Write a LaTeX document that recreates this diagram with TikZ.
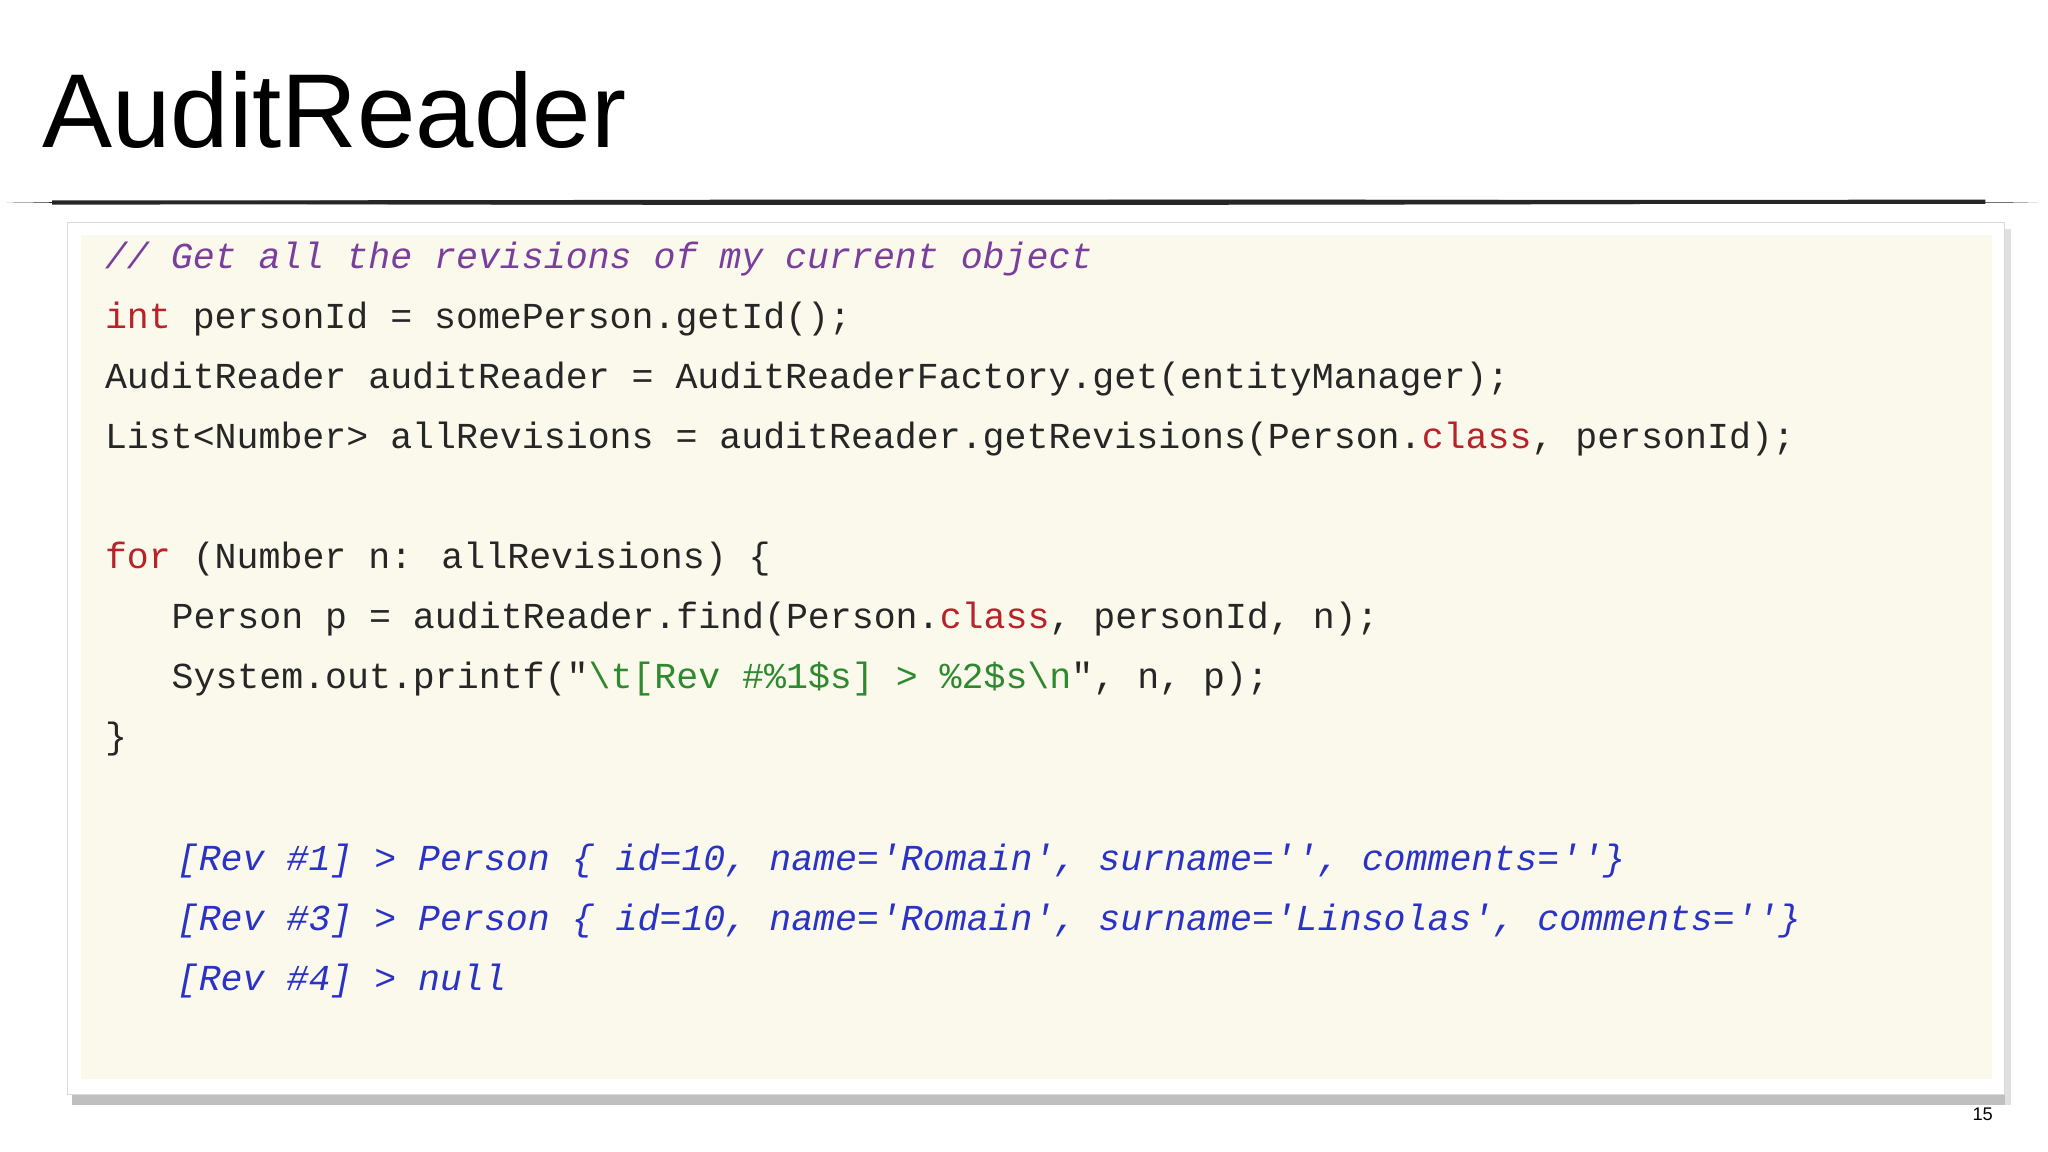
\documentclass[tikz,border=0pt]{standalone}
\usepackage{fontspec}
\setmainfont{Liberation Sans}
\newfontfamily\code{Liberation Mono}
\definecolor{cream}{HTML}{FAF9EC}
\definecolor{cmt}{HTML}{7A3E9D}
\definecolor{kw}{HTML}{B8232A}
\definecolor{str}{HTML}{2F8A2F}
\definecolor{outc}{HTML}{2B33C4}
\tikzset{codeline/.style={anchor=west,inner sep=0pt,font=\code\fontsize{14}{16}\selectfont,text=black!85}}
\begin{document}
\begin{tikzpicture}[x=0.5pt,y=-0.5pt]
\useasboundingbox[fill=white] (0,0) rectangle (1568,882);
\node[anchor=west,inner sep=0pt,font=\fontsize{40.2}{45}\selectfont] (title) at (32,84) {AuditReader};
\fill[black!85] (5,155) .. controls (400,152) and (1200,152) .. (1560,155) .. controls (1200,157) and (400,158) .. (5,155);
\draw[line width=1.6pt,black!85] (40,155) -- (1520,154.5);
\fill[black!25] (55,836) rectangle (1538,846);
\fill[black!12] (1535,175) rectangle (1540,846);
\fill[white,draw=black!15] (52,170) rectangle (1535,838);
\fill[cream] (62,180) rectangle (1525,826);
\node[codeline,text=cmt] (l1) at (80,198) {\itshape // Get all the revisions of my current object};
\node[codeline] (l2) at (80,244) {\textcolor{kw}{int} personId = somePerson.getId();};
\node[codeline] (l3) at (80,290) {AuditReader auditReader = AuditReaderFactory.get(entityManager);};
\node[codeline] (l4) at (80,336) {List<Number> allRevisions = auditReader.getRevisions(Person.\textcolor{kw}{class}, personId);};
\node[codeline] (l5) at (80,428) {\textcolor{kw}{for} (Number n: allRevisions) \{};
\node[codeline] (l6) at (131,474) {Person p = auditReader.find(Person.\textcolor{kw}{class}, personId, n);};
\node[codeline] (l7) at (131,520) {System.out.printf("\textcolor{str}{\textbackslash t[Rev \#\%1\$s] > \%2\$s\textbackslash n}", n, p);};
\node[codeline] (l8) at (80,566) {\}};
\node[codeline,text=outc] (o1) at (135,659) {\itshape [Rev \#1] > Person \{ id=10, name='Romain', surname='', comments=''\}};
\node[codeline,text=outc] (o2) at (135,705) {\itshape [Rev \#3] > Person \{ id=10, name='Romain', surname='Linsolas', comments=''\}};
\node[codeline,text=outc] (o3) at (135,751) {\itshape [Rev \#4] > null};
\node[font=\fontsize{7}{8}\selectfont] (pg) at (1518,853) {15};
\end{tikzpicture}
\end{document}
